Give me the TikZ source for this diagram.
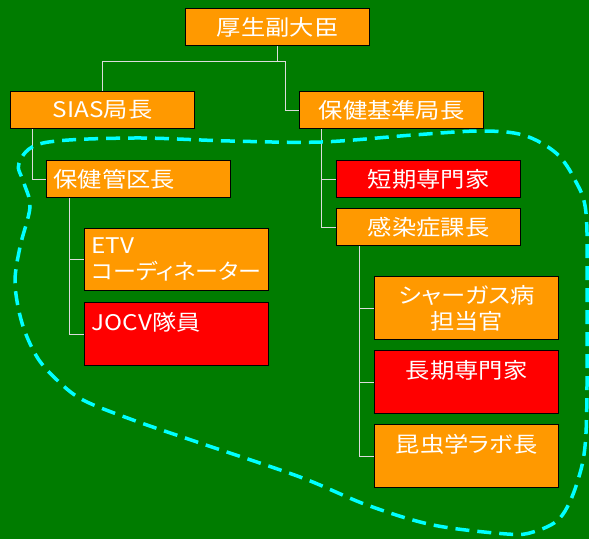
\documentclass[tikz,border=0pt]{standalone}
\usepackage{fontspec}
\newfontfamily\jp[FakeStretch=1.13,RawFeature=+palt]{Noto Sans CJK JP}
\newfontfamily\jpk[FakeStretch=1.07,RawFeature=+palt]{Noto Sans CJK JP}
\definecolor{bgC}{RGB}{0,124,0}
\definecolor{orangeC}{RGB}{255,153,0}
\definecolor{redC}{RGB}{255,0,0}
\definecolor{lineC}{RGB}{220,220,220}
\definecolor{blobC}{RGB}{0,255,255}
\begin{document}
\begin{tikzpicture}[x=1pt,y=-1pt,
  box/.style={draw=black,line width=1.3pt,anchor=north west,minimum width=184pt,
    minimum height=37pt,inner xsep=7pt,inner ysep=0pt,text width=170pt,text=white,
    font={\jp\fontsize{21.5pt}{26pt}\selectfont},align=center},
  org/.style={box,fill=orangeC},
  redb/.style={box,fill=redC},
  tall/.style={minimum height=63pt},
  conn/.style={draw=lineC,line width=1pt},
  blob/.style={draw=blobC,line width=3.5pt,dash pattern=on 14pt off 8pt}]
\fill[bgC] (0,0) rectangle (589,539);
\useasboundingbox (0,0) rectangle (589,539);

\node[org] (top) at (185,8) {厚生副大臣};
\node[org] (sias) at (10,91) {SIAS局長};
\node[org] (kiban) at (299,91) {保健基準局長};
\node[org,align=left] (kanku) at (46,160) {保健管区長};
\node[redb] (tanki) at (336,160) {短期専門家};
\node[org] (kansen) at (336,208) {感染症課長};
\node[org,tall,align=left,minimum height=62pt] (etv) at (84,228) {ETV\\{\jpk コーディネーター}};
\node[redb,tall,align=left] (jocv) at (84,302) {JOCV隊員\\\mbox{}};
\node[org,tall] (chagas) at (374,276) {シャーガス病\\担当官};
\node[redb,tall] (choki) at (374,350) {長期専門家\\\mbox{}};
\node[org,tall] (konchu) at (374,424) {昆虫学ラボ長\\\mbox{}};

\draw[conn] (top.south) -- ++(0,15) -| (sias.north);
\draw[conn] (top.south) ++(0,15) -- ++(8,0) |- (kiban.west);
\draw[conn] ([xshift=22pt]sias.south west) |- (kanku.west);
\draw[conn] ([xshift=22pt]kiban.south west) |- (tanki.west);
\draw[conn] ([xshift=22pt]kiban.south west) |- (kansen.west);
\draw[conn] ([xshift=23pt]kanku.south west) |- (etv.west);
\draw[conn] ([xshift=23pt]kanku.south west) |- (jocv.west);
\draw[conn] ([xshift=23pt]kansen.south west) |- (chagas.west);
\draw[conn] ([xshift=23pt]kansen.south west) |- (choki.west);
\draw[conn] ([xshift=23pt]kansen.south west) |- (konchu.west);

\draw[blob] plot[smooth cycle,tension=0.55] coordinates {
 (43,143) (133,138) (230,141) (321,142) (413,135) (480,131) (523,135) (556,153)
 (575,180) (586,213) (587,300) (586,433) (577,483) (560,518) (533,532) (507,534)
 (433,525) (367,505) (300,477) (200,443) (133,420) (83,400) (57,380) (37,357)
 (22,323) (15,283) (20,247) (30,207) (24,183) (19,163)};
\end{tikzpicture}
\end{document}
